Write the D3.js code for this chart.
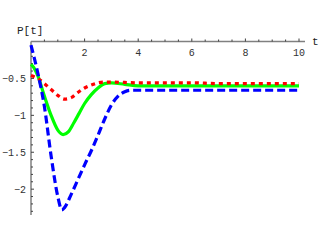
<!DOCTYPE html>
<html><head><meta charset="utf-8">
<script src="https://cdn.jsdelivr.net/npm/d3@7"></script>
<style>body{margin:0;background:#fff}svg{display:block}</style>
</head><body>
<svg id="c" width="324" height="240"></svg>
<script>
const tBlue  = [0,0.25,0.5,0.75,1.0,1.15,1.25,1.5,1.75,2.0,2.25,2.5,2.75,3.0,3.25,3.5,3.75,4.0,4.5,5,6,7,8,9,10];
const pBlue  = [-0.05,-0.42,-0.88,-1.55,-2.1,-2.28,-2.25,-2.07,-1.87,-1.67,-1.48,-1.27,-1.05,-0.86,-0.74,-0.68,-0.66,-0.66,-0.66,-0.66,-0.66,-0.66,-0.66,-0.66,-0.66];
const tGreen = [0,0.1,0.25,0.5,0.75,1.0,1.2,1.4,1.6,1.8,2.0,2.25,2.5,2.75,3.0,3.5,4,5,6,7,8,9,10];
const pGreen = [-0.31,-0.35,-0.46,-0.74,-1.0,-1.2,-1.26,-1.22,-1.1,-0.97,-0.84,-0.72,-0.63,-0.57,-0.56,-0.58,-0.6,-0.6,-0.6,-0.6,-0.6,-0.6,-0.6];
const tRed   = [0,0.25,0.5,0.75,1.0,1.25,1.5,1.75,2.0,2.25,2.5,2.75,3.0,4,5,6,7,8,9,10];
const pRed   = [-0.46,-0.5,-0.57,-0.65,-0.73,-0.78,-0.76,-0.69,-0.63,-0.59,-0.56,-0.55,-0.55,-0.56,-0.56,-0.56,-0.57,-0.57,-0.57,-0.57];
const xTicks = [2,4,6,8,10];
const yTicks = [-0.5,-1,-1.5,-2];

const svg = d3.select("#c");
const x = d3.scaleLinear().domain([0,10]).range([31,299]);
const y = d3.scaleLinear().domain([0,-2.35]).range([41.5,215]);
const axisCol = "#808080";

// x axis
svg.append("line").attr("x1",x(0)).attr("x2",305).attr("y1",y(0)).attr("y2",y(0))
  .attr("stroke",axisCol).attr("stroke-width",1.5);
d3.range(0.5,10.01,0.5).forEach(v=>{
  svg.append("line").attr("x1",x(v)).attr("x2",x(v)).attr("y1",y(0)).attr("y2",y(0)-(v%2===0?3:2))
    .attr("stroke","#404040").attr("stroke-width",1);
});
xTicks.forEach(v=>{
  svg.append("text").attr("x",x(v)).attr("y",y(0)+14).attr("text-anchor","middle")
    .attr("font-family","Liberation Mono, monospace").attr("font-size",10).attr("fill","#333").text(v);
});
// y axis
svg.append("line").attr("x1",x(0)).attr("x2",x(0)).attr("y1",y(0)).attr("y2",215)
  .attr("stroke",axisCol).attr("stroke-width",1.5);
d3.range(-0.1,-2.36,-0.1).forEach(v=>{
  const major = Math.abs(v*2-Math.round(v*2))<1e-6;
  svg.append("line").attr("x1",x(0)).attr("x2",x(0)+(major?3:2)).attr("y1",y(v)).attr("y2",y(v))
    .attr("stroke","#404040").attr("stroke-width",1);
});
yTicks.forEach(v=>{
  svg.append("text").attr("x",x(0)-5).attr("y",y(v)+3.5).attr("text-anchor","end")
    .attr("font-family","Liberation Mono, monospace").attr("font-size",10).attr("fill","#333")
    .text(String(v).replace("-","\u2212"));
});
svg.append("text").attr("x",17).attr("y",34).attr("font-family","Liberation Mono, monospace")
  .attr("font-size",11).attr("fill","#222").text("P[t]");
svg.append("text").attr("x",312).attr("y",45).attr("font-family","Liberation Mono, monospace")
  .attr("font-size",11).attr("fill","#222").text("t");

const line = d3.line().curve(d3.curveMonotoneX);
function draw(ts,ps,col,dash){
  svg.append("path").attr("d",line(ts.map((t,i)=>[x(t),y(ps[i])])))
    .attr("fill","none").attr("stroke",col).attr("stroke-width",3.2)
    .attr("stroke-dasharray",dash);
}
draw(tGreen,pGreen,"#00ff00",null);
draw(tRed,pRed,"#ff0000","4,4");
draw(tBlue,pBlue,"#0000ff","8,4");
</script>
</body></html>
